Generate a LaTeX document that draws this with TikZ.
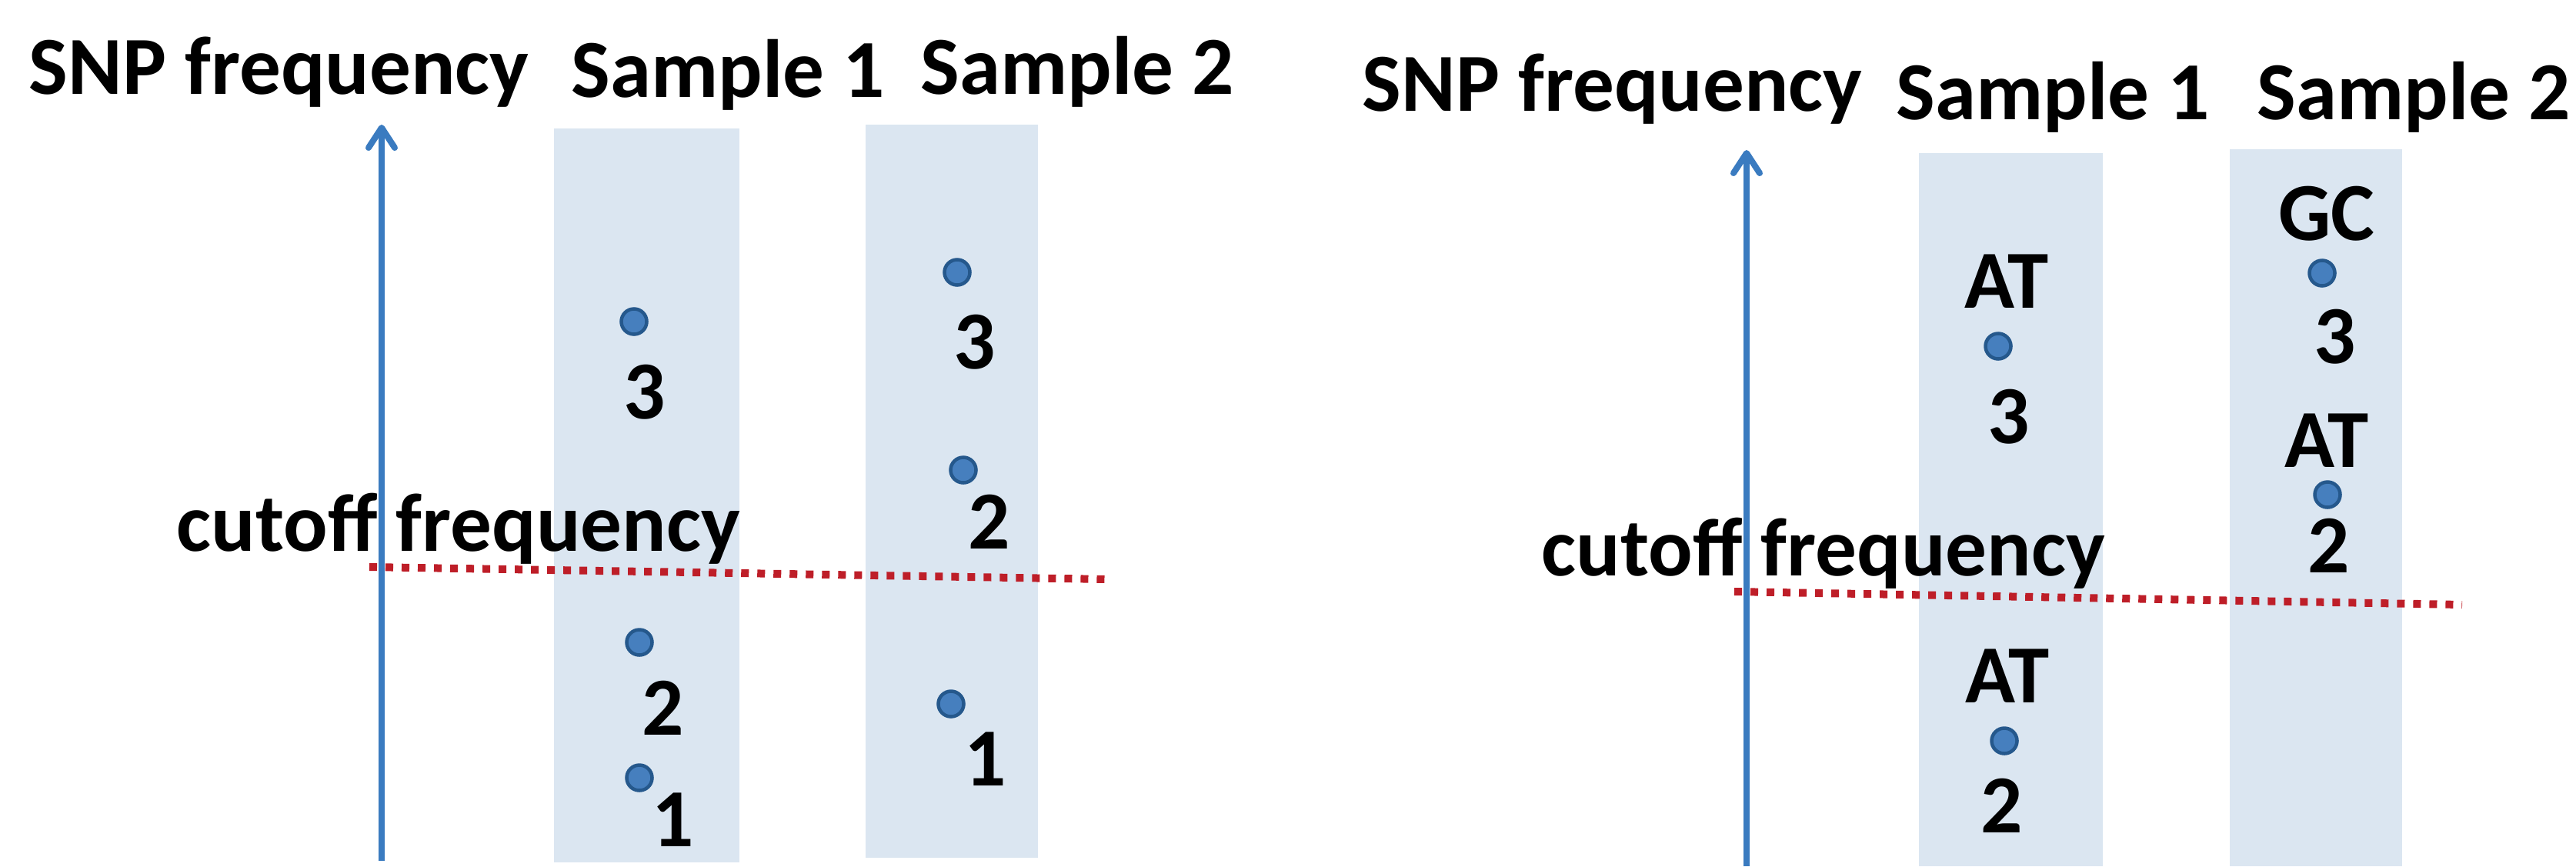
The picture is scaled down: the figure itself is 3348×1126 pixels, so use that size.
\documentclass[tikz,border=0pt]{standalone}
\usepackage{fontspec}
\setmainfont{Carlito}
\usetikzlibrary{arrows.meta}
\definecolor{bandfill}{RGB}{219,230,241}
\definecolor{dotfill}{RGB}{70,127,190}
\definecolor{dotline}{RGB}{37,88,140}
\definecolor{axisblue}{RGB}{58,123,192}
\definecolor{cutred}{RGB}{190,30,40}
\tikzset{
  band/.style={fill=bandfill, draw=none},
  snpdot/.style={circle, fill=dotfill, draw=dotline, line width=0.045cm, minimum size=0.33cm, inner sep=0pt},
  lbl/.style={font=\bfseries\fontsize{30.5}{36}\selectfont, inner sep=0pt, text=black},
  axisarrow/.style={draw=axisblue, line width=0.08cm, -{Straight Barb[length=0.26cm, width=0.34cm, round]}},
  cutline/.style={draw=cutred, line width=0.10cm, dash pattern=on 0.10cm off 0.11cm}
}
\begin{document}
\begin{tikzpicture}[x=0.01cm, y=-0.01cm]
\useasboundingbox (0,0) rectangle (3348,1126);
% ---------- left panel ----------
\fill[band] (720,167) rectangle (961,1121);
\fill[band] (1125,162) rectangle (1349,1115);
\node[lbl, anchor=base west] (Lsnp) at (37,122) {SNP frequency};
\node[lbl, anchor=base west] (Ls1) at (742,126) {Sample 1};
\node[lbl, anchor=base west] (Ls2) at (1196,122) {Sample 2};
\coordinate (Lcut1) at (480,737);
\coordinate (Lcut2) at (1439,753);
\draw[cutline] (Lcut1) -- (Lcut2);
\coordinate (Lax0) at (496,1119);
\coordinate (Lax1) at (496,162);
\draw[axisarrow] (Lax0) -- (Lax1);
\node[lbl, anchor=base west] (Lcut) at (229,716) {cutoff frequency};
\node[snpdot] (Ld13) at (824,418) {};
\node[lbl, anchor=base] (Ln13) at (838,544) {3};
\node[snpdot] (Ld23) at (1244,354) {};
\node[lbl, anchor=base] (Ln23) at (1267,479) {3};
\node[snpdot] (Ld22) at (1252,611) {};
\node[lbl, anchor=base] (Ln22) at (1286,713) {2};
\node[snpdot] (Ld12) at (831,835) {};
\node[lbl, anchor=base] (Ln12) at (862,955) {2};
\node[snpdot] (Ld11) at (831,1011) {};
\node[lbl, anchor=base] (Ln11) at (875,1100) {1};
\node[snpdot] (Ld21) at (1236,915) {};
\node[lbl, anchor=base] (Ln21) at (1281,1021) {1};
% ---------- right panel ----------
\fill[band] (2494,199) rectangle (2733,1126);
\fill[band] (2898,194) rectangle (3122,1126);
\node[lbl, anchor=base west] (Rsnp) at (1770,144) {SNP frequency};
\node[lbl, anchor=base west] (Rs1) at (2464,155) {Sample 1};
\node[lbl, anchor=base west] (Rs2) at (2933,155) {Sample 2};
\coordinate (Rcut1) at (2254,769);
\coordinate (Rcut2) at (3200,786);
\draw[cutline] (Rcut1) -- (Rcut2);
\coordinate (Rax0) at (2270,1126);
\coordinate (Rax1) at (2270,195);
\draw[axisarrow] (Rax0) -- (Rax1);
\node[lbl, anchor=base west] (Rcut) at (2003,748) {cutoff frequency};
\node[lbl, anchor=base] (Rgc) at (3024,312) {GC};
\node[snpdot] (Rd23) at (3018,355) {};
\node[lbl, anchor=base] (Rn23) at (3035,472) {3};
\node[lbl, anchor=base] (Rat22) at (3024,607) {AT};
\node[snpdot] (Rd22) at (3025,643) {};
\node[lbl, anchor=base] (Rn22) at (3027,744) {2};
\node[lbl, anchor=base] (Rat13) at (2608,400) {AT};
\node[snpdot] (Rd13) at (2597,450) {};
\node[lbl, anchor=base] (Rn13) at (2611,576) {3};
\node[lbl, anchor=base] (Rat12) at (2609,913) {AT};
\node[snpdot] (Rd12) at (2605,963) {};
\node[lbl, anchor=base] (Rn12) at (2602,1082) {2};
\end{tikzpicture}
\end{document}
